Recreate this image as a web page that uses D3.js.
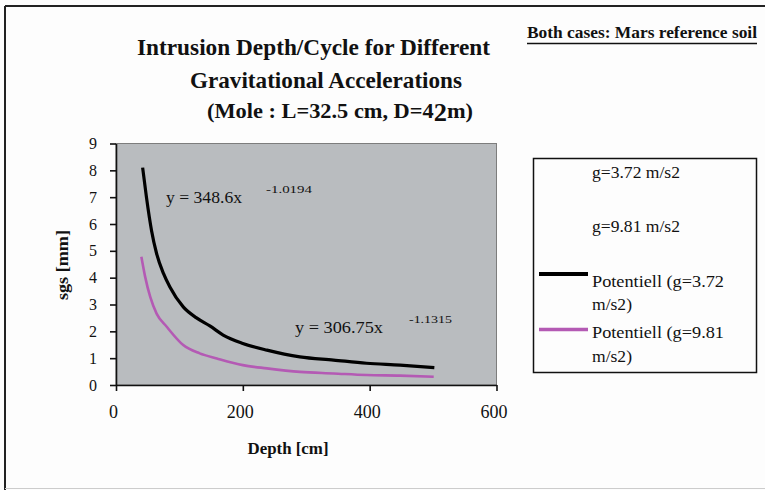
<!DOCTYPE html>
<html>
<head>
<meta charset="utf-8">
<script src="https://cdn.jsdelivr.net/npm/d3@7"></script>
<style>
  body { margin: 0; background: #fdfdfd; }
  svg { display: block; font-family: "Liberation Serif", "DejaVu Serif", serif; }
</style>
</head>
<body>
<svg id="chart" width="765" height="490"></svg>
<script>
// data
const depthLow = [42, 48, 56, 64, 75, 85, 106, 127, 148, 169, 200, 238, 290, 343, 395, 448, 502];
const sgsLow = [8.1, 7.0, 5.76, 4.9, 4.15, 3.65, 2.91, 2.5, 2.2, 1.86, 1.55, 1.30, 1.05, 0.93, 0.81, 0.74, 0.65];

const depthHigh = [40, 46, 54, 64, 80, 106, 132, 159, 200, 238, 290, 343, 395, 448, 501];
const sgsHigh = [4.78, 4.03, 3.28, 2.66, 2.17, 1.49, 1.18, 0.99, 0.74, 0.62, 0.49, 0.43, 0.37, 0.35, 0.31];

const xTicks = [0, 200, 400, 600];
const yTicks = [0, 1, 2, 3, 4, 5, 6, 7, 8, 9];
const legendNames = ["g=3.72 m/s2", "g=9.81 m/s2", "Potentiell (g=3.72", "m/s2)", "Potentiell (g=9.81", "m/s2)"];

const svg = d3.select('#chart');

// helper for the squeezed text of the original
const label = (str, x, y, size, opts = {}) => {
  const t = svg.append('text')
    .attr('x', x).attr('y', y)
    .attr('font-size', size)
    .attr('font-weight', opts.bold ? 'bold' : 'normal')
    .attr('text-anchor', opts.anchor || 'start')
    .attr('fill', '#111')
    .text(str);
  if (opts.width) t.attr('textLength', opts.width).attr('lengthAdjust', 'spacingAndGlyphs');
  return t;
};

// outer frame
svg.append('line').attr('x1', 5).attr('x2', 765).attr('y1', 6).attr('y2', 6).attr('stroke', '#222').attr('stroke-width', 2);
svg.append('line').attr('x1', 5).attr('x2', 5).attr('y1', 6).attr('y2', 490).attr('stroke', '#222').attr('stroke-width', 2);
svg.append('line').attr('x1', 5).attr('x2', 765).attr('y1', 488.5).attr('y2', 488.5).attr('stroke', '#ccc').attr('stroke-width', 1);

// title
label('Intrusion Depth/Cycle for Different', 137, 55, 24, { bold: true, width: 353 });
label('Gravitational Accelerations', 190, 88, 23, { bold: true, width: 272 });
const t3 = label('(Mole : L=32.5 cm, D=4', 207, 118, 22, { bold: true });
t3.append('tspan').attr('font-size', 26).attr('dy', 3).text('2');
t3.append('tspan').attr('dy', -3).text('m)');
t3.attr('textLength', 266).attr('lengthAdjust', 'spacingAndGlyphs');

label('Both cases: Mars reference soil', 527, 38, 16, { bold: true, width: 230 });
svg.append('line').attr('x1', 527).attr('x2', 757).attr('y1', 43.5).attr('y2', 43.5).attr('stroke', '#111').attr('stroke-width', 1.5);

// scales
const x = d3.scaleLinear().domain([0, 600]).range([116, 496.5]);
const y = d3.scaleLinear().domain([0, 9]).range([385, 143.5]);

// plot area
svg.append('rect')
  .attr('x', x(0)).attr('y', y(9))
  .attr('width', x(600) - x(0)).attr('height', y(0) - y(9))
  .attr('fill', '#b9bcbf')
  .attr('stroke', '#7d7d7d').attr('stroke-width', 1);

// axes
const xAxis = svg.append('g')
  .attr('transform', `translate(0,${y(0)})`)
  .call(d3.axisBottom(x).tickValues(xTicks).tickSize(6).tickSizeOuter(0).tickPadding(14));
const yAxis = svg.append('g')
  .attr('transform', `translate(${x(0)},0)`)
  .call(d3.axisLeft(y).tickValues(yTicks).tickSize(6).tickSizeOuter(0).tickPadding(13));

[xAxis, yAxis].forEach(a => {
  a.select('.domain').attr('stroke', '#111').attr('stroke-width', 1.6);
  a.selectAll('.tick line').attr('stroke', '#111').attr('stroke-width', 1.6);
  a.selectAll('.tick text')
    .attr('font-family', '"Liberation Serif", serif')
    .attr('fill', '#111');
});
xAxis.selectAll('.tick text').attr('font-size', 18).attr('dx', -3);
yAxis.selectAll('.tick text').attr('font-size', 16);

// axis titles
label('Depth [cm]', 288, 454, 17, { bold: true, anchor: 'middle', width: 81 });
label('sgs [mm]', 0, 0, 16, { bold: true, anchor: 'middle', width: 70 })
  .attr('transform', 'translate(68,265) rotate(-90)');

// curves
const line = d3.line()
  .x(d => x(d[0]))
  .y(d => y(d[1]))
  .curve(d3.curveMonotoneX);

svg.append('path')
  .datum(d3.zip(depthLow, sgsLow))
  .attr('d', line)
  .attr('fill', 'none')
  .attr('stroke', '#000')
  .attr('stroke-width', 3.2);

svg.append('path')
  .datum(d3.zip(depthHigh, sgsHigh))
  .attr('d', line)
  .attr('fill', 'none')
  .attr('stroke', '#b45ab4')
  .attr('stroke-width', 2.6);

// trend line equations
label('y = 348.6x', 166, 203, 16, { width: 76 });
label('-1.0194', 266, 193, 11, { width: 46 });
label('y = 306.75x', 295, 333, 16, { width: 88 });
label('-1.1315', 409, 323, 11, { width: 43 });

// legend
svg.append('rect')
  .attr('x', 533.5).attr('y', 158.5)
  .attr('width', 223).attr('height', 214)
  .attr('fill', '#fdfdfd')
  .attr('stroke', '#111').attr('stroke-width', 1.5);

const legendY = [178, 232, 287, 310, 338, 362];
const legendW = [88, 88, 132, 40, 132, 40];
legendNames.forEach((n, i) => label(n, 592, legendY[i], 17, { width: legendW[i] }));

svg.append('line').attr('x1', 539).attr('x2', 588).attr('y1', 274).attr('y2', 274)
  .attr('stroke', '#000').attr('stroke-width', 4);
svg.append('line').attr('x1', 539).attr('x2', 588).attr('y1', 329.5).attr('y2', 329.5)
  .attr('stroke', '#b45ab4').attr('stroke-width', 3.5);
</script>
</body>
</html>
